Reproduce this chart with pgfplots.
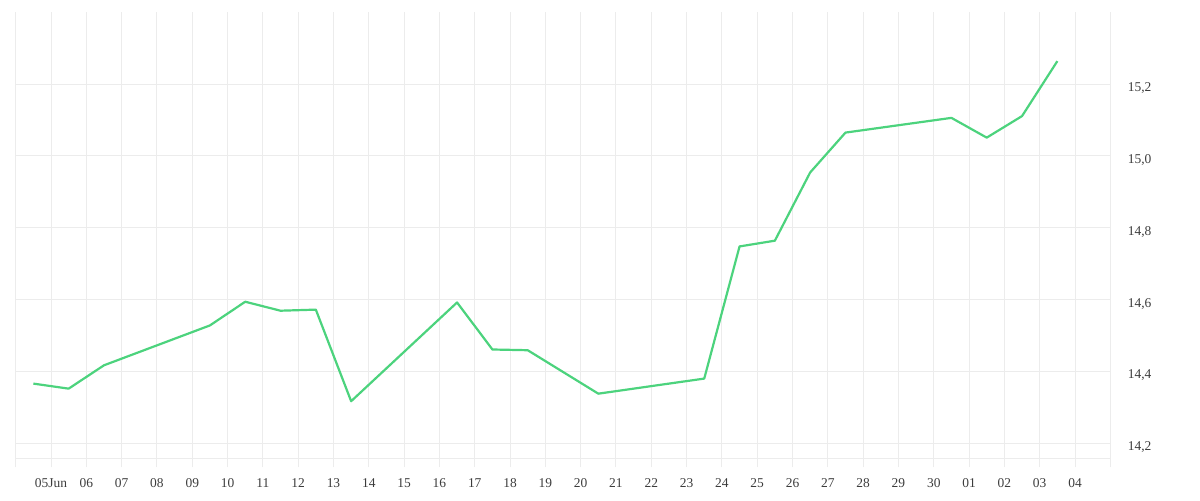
\documentclass[border=0pt]{standalone}
\usepackage{pgfplots}
\pgfplotsset{compat=1.18}
\usepackage{fontspec}
\setmainfont{Liberation Serif}
\definecolor{gridc}{RGB}{236,236,236}
\definecolor{linec}{RGB}{76,211,125}
\definecolor{labc}{RGB}{60,60,60}
\begin{document}
\begin{tikzpicture}
\begin{axis}[
  name=ax,
  at={(0,0)}, anchor=south west,
  scale only axis,
  width=1094.6bp, height=446bp,
  xmin=-1, xmax=30,
  ymin=14.158, ymax=15.40,
  axis x line*=bottom,
  axis y line*=right,
  x axis line style={draw=gridc, line width=1bp, -},
  y axis line style={draw=none},
  xtick={-1,0,...,30},
  xticklabels={,05Jun,06,07,08,09,10,11,12,13,14,15,16,17,18,19,20,21,22,23,24,25,26,27,28,29,30,01,02,03,04,},
  ytick={14.2,14.4,14.6,14.8,15.0,15.2},
  yticklabel style={/pgf/number format/use comma, /pgf/number format/fixed, /pgf/number format/fixed zerofill, /pgf/number format/precision=1},
  /pgf/number format/assume math mode=true,
  xmajorgrids, ymajorgrids,
  grid style={draw=gridc, line width=1bp},
  tick align=outside,
  xtick style={draw=gridc, line width=1bp},
  major tick length=9bp,
  ytick style={draw=none},
  tick label style={font=\fontsize{13.5}{16}\selectfont, text=labc},
  xticklabel style={anchor=center, yshift=-16bp},
  yticklabel style={anchor=west, xshift=5bp, yshift=-4bp},
  clip=false,
]
\addplot[color=linec, line width=2.2bp, line join=round, no markers] coordinates {
(-0.5,14.366) (0.5,14.352) (1.5,14.417) (4.5,14.528) (5.5,14.594) (6.5,14.569)
(7.5,14.572) (8.5,14.317) (11.5,14.592) (12.5,14.461) (13.5,14.459) (15.5,14.338)
(18.5,14.380) (19.5,14.748) (20.5,14.764) (21.5,14.954) (22.5,15.065) (25.5,15.106)
(26.5,15.051) (27.5,15.111) (28.5,15.264)
};
\end{axis}
\path[use as bounding box] ([xshift=-15.7bp,yshift=-41.7bp]ax.south west) rectangle ([xshift=89.7bp,yshift=12.3bp]ax.north east);
\end{tikzpicture}
\end{document}
